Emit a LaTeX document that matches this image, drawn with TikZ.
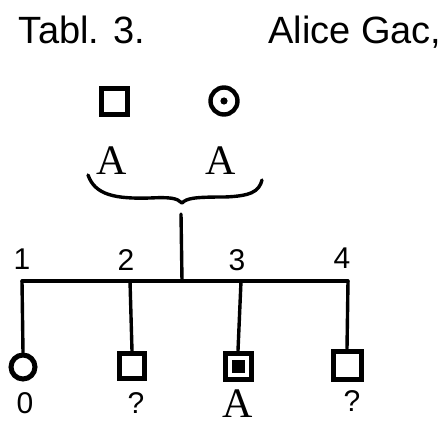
\documentclass[tikz,border=0pt]{standalone}
\usepackage{fontspec}
\usetikzlibrary{shapes.geometric}
\setmainfont{Liberation Sans}
\newfontfamily\serifA{Liberation Serif}
\begin{document}
\begin{tikzpicture}[x=1pt,y=-1pt,
  line/.style={line width=3.4pt,line cap=round,line join=round},
  male/.style={draw,line width=5pt,minimum size=26pt,inner sep=0pt},
  female/.style={draw,circle,line width=4.4pt,minimum size=27pt,inner sep=0pt},
  lbl/.style={inner sep=0pt,font=\fontsize{30}{30}\selectfont},
  alab/.style={inner sep=0pt,font=\serifA\fontsize{42}{42}\selectfont},
  title/.style={inner sep=0pt,font=\fontsize{38}{38}\selectfont}]
\useasboundingbox (0,0) rectangle (441,427);
% titles
\node[title] (t1) at (82,30) {Tabl. 3.};
\node[title] (t2) at (355,32) {Alice Gac,};
% parents
\node[male] (f) at (114,102) {};
\node[female] (m) at (224,101) {};
\fill (m.center) circle (3.6pt);
\node[alab] (fa) at (112,161) {A};
\node[alab] (ma) at (221,161) {A};
% brace
\coordinate (bt) at (182,203);
\draw[line] (88,175) .. controls (95,195) and (115,199) .. (150,198)
  .. controls (170,197) and (177,198) .. (bt)
  .. controls (187,198) and (195,197) .. (225,197)
  .. controls (250,196) and (259,192) .. (262,180);
% sibship
\coordinate (top) at (181,214);
\coordinate (s1) at (22,281);
\coordinate (s2) at (130,281);
\coordinate (s3) at (241,281);
\coordinate (s4) at (348,281);
\coordinate (mid) at (182,281);
\draw[line] (top) -- (mid);
\draw[line] (s1) -- (s4);
% numbers
\node[lbl] (n1) at (22,259) {1};
\node[lbl] (n2) at (126,260) {2};
\node[lbl] (n3) at (237,260) {3};
\node[lbl] (n4) at (342,258) {4};
% children
\node[draw,ellipse,line width=5pt,minimum width=24pt,minimum height=24pt,inner sep=0pt] (c1) at (23,367) {};
\node[male,minimum size=25pt] (c2) at (132,366) {};
\node[male,minimum size=26pt] (c3) at (238,366) {};
\fill (c3.center) ++(-6.5pt,-6.5pt) rectangle ++(13pt,13pt);
\node[male,minimum size=28pt] (c4) at (347,365) {};
\draw[line] (s1) -- (c1.north);
\draw[line] (s2) -- (c2.north);
\draw[line] (s3) -- (c3.north);
\draw[line] (s4) -- (c4.north);
% child labels
\node[lbl] (l1) at (25,403) {0};
\node[lbl] (l2) at (136,403) {?};
\node[alab] (l3) at (238,404) {A};
\node[lbl] (l4) at (352,401) {?};
\end{tikzpicture}
\end{document}
